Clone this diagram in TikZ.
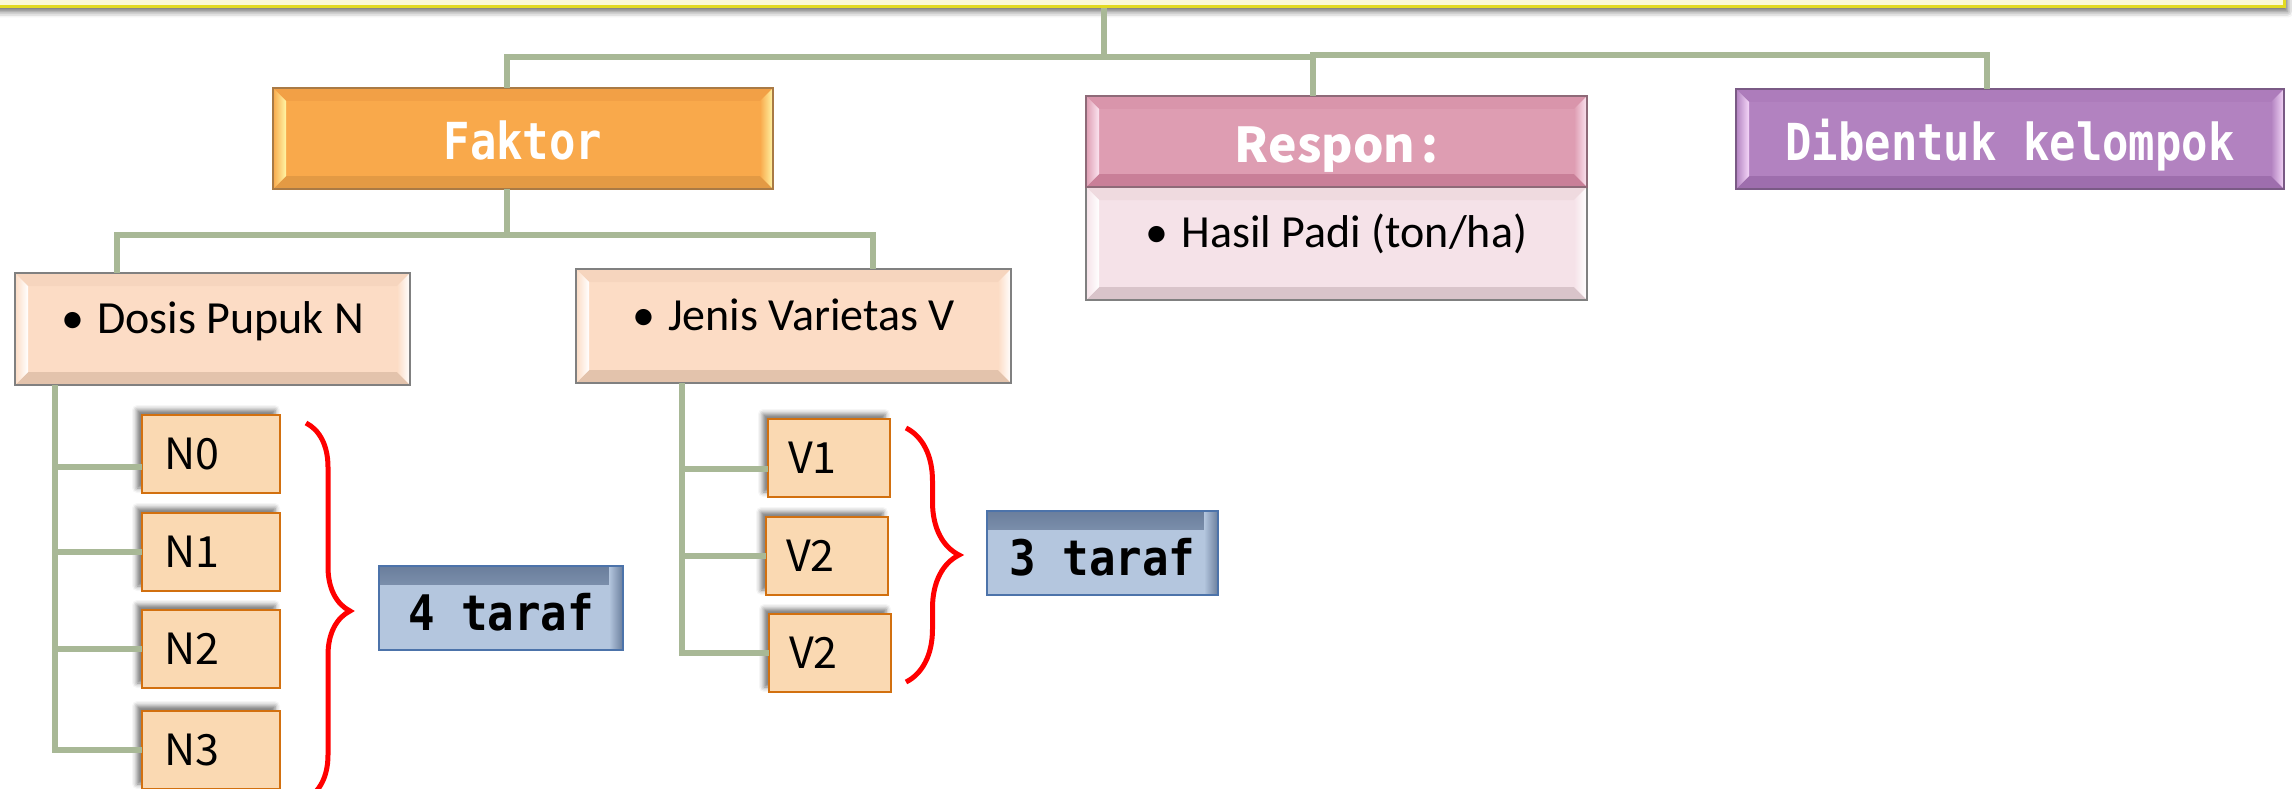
\documentclass[tikz,border=0pt]{standalone}
\usepackage{fontspec}
\setmainfont{Carlito}
\newfontfamily\boxmono[FakeStretch=0.86]{DejaVu Sans Mono}
\newfontfamily\tarmono[FakeStretch=0.9]{DejaVu Sans Mono}
\newfontfamily\cjkfont{Noto Sans CJK SC}
\usetikzlibrary{shadows.blur,decorations.pathreplacing}

% palette
\definecolor{connclr}{HTML}{A8B896}
\definecolor{fakC}{HTML}{F9A94B}
\definecolor{fakT}{HTML}{F2A046}
\definecolor{fakB}{HTML}{E39A44}
\definecolor{fakH}{HTML}{FFF6A6}
\definecolor{fakD}{HTML}{A97A45}
\definecolor{resC}{HTML}{DE9DB2}
\definecolor{resT}{HTML}{D995AB}
\definecolor{resB}{HTML}{C97F98}
\definecolor{resH}{HTML}{FBE4F0}
\definecolor{resD}{HTML}{8E6A78}
\definecolor{hasC}{HTML}{F5E2E8}
\definecolor{hasT}{HTML}{EFDADF}
\definecolor{hasB}{HTML}{D9C4CA}
\definecolor{greyD}{HTML}{808080}
\definecolor{dibC}{HTML}{B282C0}
\definecolor{dibT}{HTML}{AD7CBB}
\definecolor{dibB}{HTML}{9E6EAD}
\definecolor{dibH}{HTML}{F4D6F8}
\definecolor{dibD}{HTML}{7A5A85}
\definecolor{facC}{HTML}{FCDCC5}
\definecolor{facT}{HTML}{F6D5BE}
\definecolor{facB}{HTML}{E3C3AC}
\definecolor{lvC}{HTML}{FAD9B2}
\definecolor{lvD}{HTML}{D2700F}
\definecolor{tarC}{HTML}{B4C6DE}
\definecolor{tarD}{HTML}{4C73AA}
\definecolor{tarS}{HTML}{6A7E9C}
\definecolor{banC}{HTML}{FAF8D6}
\definecolor{banD}{HTML}{E2DA22}

\newcommand\hdtext{\boxmono\bfseries\fontsize{51}{60}\selectfont}
\newcommand\restext{\cjkfont\bfseries\fontsize{48}{56}\selectfont}
\newcommand\bodytext{\fontsize{46}{54}\selectfont}
\newcommand\lvtext{\cjkfont\fontsize{43}{50}\selectfont}
\newcommand\tartext{\tarmono\bfseries\fontsize{49}{58}\selectfont}
\newcommand\blt{•\hspace{13pt}}

\begin{document}
\begin{tikzpicture}[x=1pt,y=-1pt,
  conn/.style={draw=connclr, line width=6pt},
  bevel/.style n args={5}{rectangle, anchor=north west, inner sep=0pt, outer sep=0pt,
    fill=#1, draw=#5, line width=1.5pt,
    path picture={
      \coordinate (o1) at (path picture bounding box.north west);
      \coordinate (o2) at (path picture bounding box.north east);
      \coordinate (o3) at (path picture bounding box.south east);
      \coordinate (o4) at (path picture bounding box.south west);
      \coordinate (i1) at ([shift={(13pt,-13pt)}]o1);
      \coordinate (i2) at ([shift={(-13pt,-13pt)}]o2);
      \coordinate (i3) at ([shift={(-13pt,13pt)}]o3);
      \coordinate (i4) at ([shift={(13pt,13pt)}]o4);
      \fill[#2] (o1) -- (o2) -- (i2) -- (i1) -- cycle;
      \fill[#3] (o4) -- (o3) -- (i3) -- (i4) -- cycle;
      \shade[left color=#1, right color=#4] (o1) -- (i1) -- (i4) -- (o4) -- cycle;
      \shade[left color=#1, right color=#4] (o2) -- (i2) -- (i3) -- (o3) -- cycle;
    }},
  headbox/.style={font=\hdtext, text=white, text height=43pt, text depth=0pt},
  bodybox/.style={font=\bodytext, text=black, text height=20pt, text depth=12pt},
  lvbox/.style={rectangle, anchor=north west, inner sep=0pt, outer sep=0pt,
    fill=lvC, draw=lvD, line width=2.5pt, minimum height=78pt, align=left,
    font=\lvtext, text height=31pt, text depth=0pt,
    blur shadow={shadow xshift=-5pt, shadow yshift=5pt, shadow blur radius=5pt, shadow opacity=55}},
  tarbox/.style={rectangle, anchor=north west, inner sep=0pt, outer sep=0pt,
    fill=tarC, draw=tarD, line width=2.5pt, minimum height=84pt,
    font=\tartext, text height=44pt, text depth=0pt,
    path picture={
      \shade[top color=tarS, bottom color=tarC] (path picture bounding box.north west)
        rectangle ([yshift=-18pt]path picture bounding box.north east);
      \shade[left color=tarC, right color=tarS] ([xshift=-14pt]path picture bounding box.north east)
        rectangle (path picture bounding box.south east);
    }},
  tbrace/.style={draw=red, line width=5pt, decorate, decoration={brace, amplitude=#1}},
]
\useasboundingbox (0,0) rectangle (2292,789);
\clip (0,0) rectangle (2292,789);

% title banner along the top edge
\node[rectangle, anchor=north west, inner sep=0pt, fill=banC, draw=banD, line width=3pt,
  minimum width=2303pt, minimum height=65pt,
  blur shadow={shadow xshift=3pt, shadow yshift=-5pt, shadow blur radius=6pt, shadow opacity=60}]
  (banner) at (-20,-60) {};

% first level
\node[bevel={fakC}{fakT}{fakB}{fakH}{fakD}, headbox, minimum width=500pt, minimum height=101pt]
  (faktor) at (273,88) {Faktor};
\node[bevel={hasC}{hasT}{hasB}{white}{greyD}, bodybox, minimum width=501pt, minimum height=113pt]
  (hasil) at (1086,187) {\blt Hasil Padi (ton/ha)};
\node[bevel={resC}{resT}{resB}{resH}{resD}, headbox, font=\restext, minimum width=501pt, minimum height=91pt]
  (respon) at (1086,96) {Respon\hspace{6pt}:};
\node[bevel={dibC}{dibT}{dibB}{dibH}{dibD}, headbox, minimum width=548pt, minimum height=100pt]
  (dibentuk) at (1736,89) {Dibentuk kelompok};

% factors
\node[bevel={facC}{facT}{facB}{white}{greyD}, bodybox, minimum width=395pt, minimum height=112pt]
  (dosis) at (15,273) {\blt Dosis Pupuk N};
\node[bevel={facC}{facT}{facB}{white}{greyD}, bodybox, minimum width=435pt, minimum height=114pt]
  (jenis) at (576,269) {\blt Jenis Varietas V};

% levels of N
\node[lvbox, text width=138pt] (n0) at (142,415) {\hspace*{22pt}N0};
\node[lvbox, text width=138pt] (n1) at (142,513) {\hspace*{22pt}N1};
\node[lvbox, text width=138pt] (n2) at (142,610) {\hspace*{22pt}N2};
\node[lvbox, text width=138pt] (n3) at (142,711) {\hspace*{22pt}N3};
\node[tarbox, minimum width=244pt] (taraf4) at (379,566) {4 taraf};

% levels of V
\node[lvbox, text width=122pt] (v1) at (768,419) {\hspace*{20pt}V1};
\node[lvbox, text width=122pt] (v2) at (766,517) {\hspace*{20pt}V2};
\node[lvbox, text width=122pt] (v3) at (769,614) {\hspace*{20pt}V2};
\node[tarbox, minimum width=231pt] (taraf3) at (987,511) {3 taraf};

% connectors of the top tree
\coordinate (hub) at (1104,57);
\coordinate (hubL) at (507,57);
\coordinate (hubM) at (1313,55);
\coordinate (hubR) at (1987,55);
\draw[conn] (banner.south -| hub) -- (hub);
\draw[conn] (faktor.north -| hubL) -- (hubL) -- (hubL -| hubM);
\draw[conn, line cap=rect] (hubM) -- (hubR);
\draw[conn] (respon.north -| hubM) -- (hubM);
\draw[conn] (hubR) -- (dibentuk.north -| hubR);

% connectors under Faktor
\coordinate (fj) at (507,235);
\coordinate (dj) at (117,235);
\coordinate (jj) at (873,235);
\draw[conn] (faktor.south -| fj) -- (fj);
\draw[conn] (dosis.north -| dj) -- (dj) -- (jj) -- (jenis.north -| jj);

% comb for the N levels
\coordinate (nx) at (55,0);
\path (n0.west) ++(0,13) coordinate (bn0);
\draw[conn] (dosis.south -| nx) |- (n3.west);
\draw[conn] (nx |- bn0) -- (bn0);
\draw[conn] (nx |- n1.west) -- (n1.west);
\draw[conn] (nx |- n2.west) -- (n2.west);

% comb for the V levels
\coordinate (vx) at (682,0);
\path (v1.west) ++(0,11) coordinate (bv1);
\draw[conn] (jenis.south -| vx) |- (v3.west);
\draw[conn] (vx |- bv1) -- (bv1);
\draw[conn] (vx |- v2.west) -- (v2.west);

% braces
\coordinate (b1s) at (306,423);
\coordinate (b1e) at (306,799);
\coordinate (b2s) at (906,428);
\coordinate (b2e) at (906,682);
\draw[tbrace=44pt] (b1s) -- (b1e);
\draw[tbrace=53pt] (b2s) -- (b2e);
\end{tikzpicture}
\end{document}
